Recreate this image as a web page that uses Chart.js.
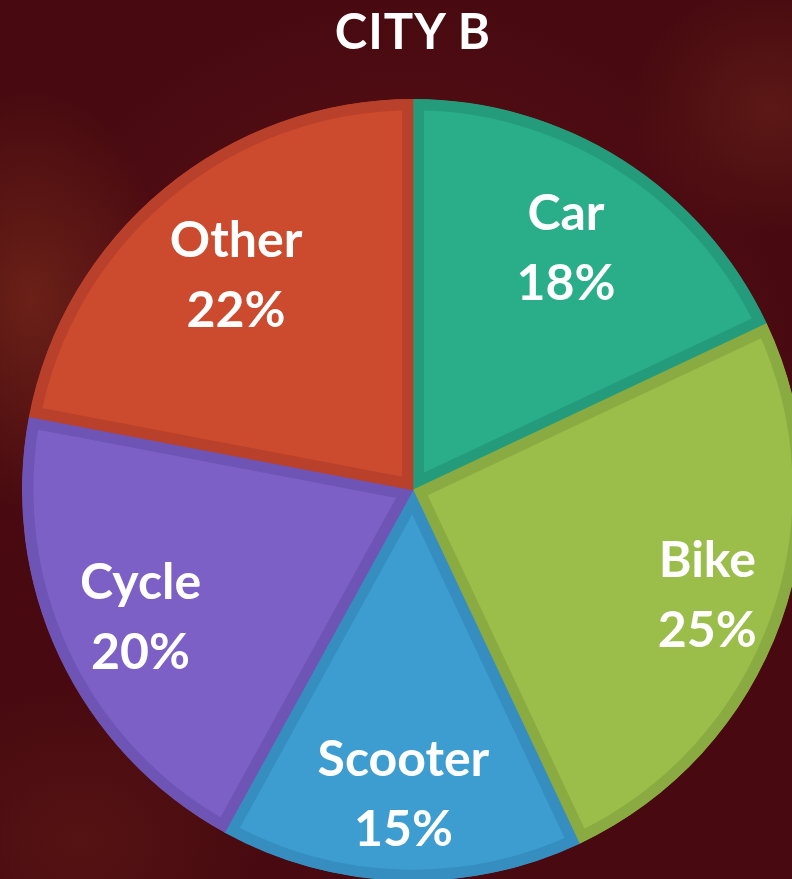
<!DOCTYPE html>
<html>
<head>
<meta charset="utf-8">
<script src="https://cdn.jsdelivr.net/npm/chart.js@4"></script>
<style>
  html, body { margin: 0; padding: 0; width: 792px; height: 879px; overflow: hidden; }
  body {
    position: relative;
    background:
      radial-gradient(ellipse 200px 300px at 30px 300px, rgba(140,55,30,0.5), rgba(140,55,30,0) 70%),
      radial-gradient(ellipse 200px 180px at 770px 110px, rgba(120,45,30,0.4), rgba(120,45,30,0) 70%),
      radial-gradient(ellipse 260px 220px at 80px 840px, rgba(110,35,25,0.35), rgba(110,35,25,0) 70%),
      radial-gradient(ellipse 500px 500px at 400px 400px, #60101a, #480a10 80%);
    font-family: Lato, "Open Sans", sans-serif;
  }
  #title {
    position: absolute; left: 0; width: 826px; top: 1px;
    text-align: center; color: #fff; font-weight: bold; font-size: 49px;
    letter-spacing: 1px;
  }
  #wrap { position: absolute; left: 0; top: 0; width: 826px; height: 980px; }
</style>
</head>
<body>
<div id="title">CITY B</div>
<div id="wrap"><canvas id="myChart"></canvas></div>
<script>
// chart data
const categories = ['Car', 'Bike', 'Scooter', 'Cycle', 'Other'];
const shares = [18, 25, 15, 20, 22];
const fillColors = ['#2aae8a', '#9bbd4a', '#3d9dd0', '#7c60c6', '#cc4a2e'];
const edgeColors = ['#249c7c', '#8aab42', '#358ebf', '#6e54b4', '#b9402a'];

// how far out (fraction of radius) each label sits
const labelReach = [0.73, 0.80, 0.78, 0.77, 0.71];

const sliceLabels = {
  id: 'sliceLabels',
  afterDatasetsDraw(chart) {
    const ctx = chart.ctx;
    const meta = chart.getDatasetMeta(0);
    ctx.save();
    ctx.fillStyle = '#ffffff';
    ctx.textAlign = 'center';
    ctx.textBaseline = 'middle';
    ctx.font = 'bold 50px Lato, "Open Sans", sans-serif';
    meta.data.forEach((arc, i) => {
      const mid = (arc.startAngle + arc.endAngle) / 2;
      const r = arc.outerRadius * labelReach[i];
      const x = arc.x + Math.cos(mid) * r;
      const y = arc.y + Math.sin(mid) * r;
      ctx.fillText(categories[i], x, y - 35);
      ctx.fillText(shares[i] + '%', x, y + 35);
    });
    ctx.restore();
  }
};

const context = document.getElementById('myChart').getContext('2d');
const myChart = new Chart(context, {
  type: 'pie',
  data: {
    labels: categories,
    datasets: [{
      data: shares,
      backgroundColor: fillColors,
      borderColor: edgeColors,
      borderWidth: 11,
      borderAlign: 'inner'
    }]
  },
  options: {
    responsive: true,
    maintainAspectRatio: false,
    animation: false,
    layout: { padding: 22 },
    plugins: {
      legend: { display: false },
      tooltip: { enabled: false }
    }
  },
  plugins: [sliceLabels]
});
</script>
</body>
</html>
